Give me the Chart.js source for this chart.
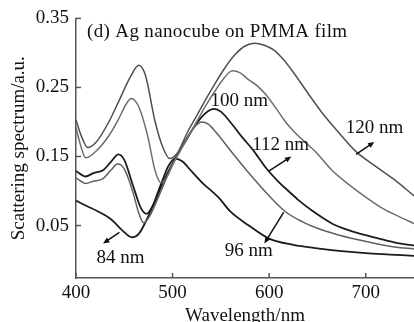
<!DOCTYPE html>
<html>
<head>
<meta charset="utf-8">
<script src="https://cdn.jsdelivr.net/npm/chart.js@4.4.1/dist/chart.umd.min.js"></script>
<style>
  html, body { margin: 0; padding: 0; background: #fff; }
</style>
</head>
<body>
<canvas id="chart" width="414" height="322"></canvas>
<script>
"use strict";

// wavelength (nm) / scattering (a.u.), one pair per cube size
const wl84 = [400, 410, 422, 431, 438, 448, 458, 465, 472, 480, 488, 496, 503, 510, 520, 530, 548, 560, 579, 600, 625, 650, 675, 700, 725, 750];
const sc84 = [0.086, 0.079, 0.071, 0.064, 0.057, 0.043, 0.033, 0.038, 0.055, 0.080, 0.110, 0.137, 0.147, 0.143, 0.128, 0.113, 0.090, 0.070, 0.050, 0.031, 0.022, 0.017, 0.013, 0.010, 0.008, 0.006];

const wl96 = [400, 410, 418, 428, 436, 443, 450, 459, 465, 470, 476, 485, 495, 505, 515, 523, 530, 537, 545, 562, 579, 600, 617, 635, 650, 670, 690, 710, 730, 750];
const sc96 = [0.119, 0.111, 0.114, 0.118, 0.130, 0.139, 0.132, 0.098, 0.068, 0.054, 0.063, 0.090, 0.123, 0.152, 0.176, 0.193, 0.200, 0.197, 0.185, 0.155, 0.126, 0.093, 0.070, 0.055, 0.046, 0.037, 0.030, 0.024, 0.019, 0.016];

const wl100 = [400, 410, 418, 428, 436, 444, 450, 459, 467, 473, 480, 490, 500, 510, 520, 530, 537, 543, 550, 562, 572, 583, 597, 610, 620, 631, 645, 665, 683, 700, 720, 735, 750];
const sc100 = [0.129, 0.121, 0.126, 0.130, 0.142, 0.153, 0.145, 0.108, 0.076, 0.067, 0.080, 0.112, 0.140, 0.165, 0.188, 0.207, 0.216, 0.219, 0.215, 0.196, 0.178, 0.160, 0.133, 0.113, 0.100, 0.086, 0.071, 0.053, 0.043, 0.036, 0.029, 0.024, 0.021];

const wl112 = [400, 405, 410, 421, 434, 444, 452, 457, 465, 474, 482, 488, 494, 500, 508, 517, 526, 535, 545, 553, 562, 570, 579, 588, 597, 607, 617, 630, 648, 665, 682, 700, 716, 733, 750];
const sc112 = [0.192, 0.165, 0.148, 0.158, 0.180, 0.204, 0.226, 0.234, 0.222, 0.181, 0.129, 0.112, 0.120, 0.138, 0.158, 0.180, 0.203, 0.225, 0.247, 0.263, 0.274, 0.271, 0.261, 0.252, 0.239, 0.220, 0.200, 0.180, 0.157, 0.130, 0.110, 0.091, 0.076, 0.064, 0.053];

const wl120 = [400, 406, 412, 421, 434, 444, 457, 465, 472, 482, 490, 497, 505, 515, 525, 535, 545, 555, 565, 575, 585, 595, 605, 615, 625, 640, 655, 670, 690, 710, 730, 750];
const sc120 = [0.203, 0.178, 0.163, 0.171, 0.200, 0.229, 0.267, 0.282, 0.267, 0.200, 0.163, 0.147, 0.155, 0.184, 0.209, 0.234, 0.258, 0.280, 0.298, 0.310, 0.314, 0.311, 0.304, 0.290, 0.272, 0.242, 0.213, 0.188, 0.157, 0.136, 0.116, 0.093];

const xTicks = [400, 500, 600, 700];
const yTicks = [0.05, 0.15, 0.25, 0.35];

// size labels: text, label centre [nm, a.u.], arrow tail and head [nm, a.u.]
const sizeNames = ["84 nm", "96 nm", "100 nm", "112 nm", "120 nm"];
const labelAt = [[446, 0.003], [579, 0.013], [569, 0.231], [612, 0.166], [709, 0.191]];
const arrowFrom = [[445, 0.040], [615, 0.069], null, [600, 0.129], [690, 0.153]];
const arrowTo = [[428, 0.024], [595, 0.024], null, [623, 0.150], [709, 0.171]];

const panelTitle = "(d) Ag nanocube on PMMA film";
const FONT = "'Liberation Serif', 'Times New Roman', serif";

function toPoints(xs, ys) {
    return xs.map((x, i) => ({ x: x, y: ys[i] }));
}

function drawArrow(ctx, x1, y1, x2, y2) {
    const ang = Math.atan2(y2 - y1, x2 - x1);
    const head = 7;
    ctx.beginPath();
    ctx.moveTo(x1, y1);
    ctx.lineTo(x2 - Math.cos(ang) * head * 0.7, y2 - Math.sin(ang) * head * 0.7);
    ctx.stroke();
    ctx.beginPath();
    ctx.moveTo(x2, y2);
    ctx.lineTo(x2 - head * Math.cos(ang - 0.4), y2 - head * Math.sin(ang - 0.4));
    ctx.lineTo(x2 - head * Math.cos(ang + 0.4), y2 - head * Math.sin(ang + 0.4));
    ctx.closePath();
    ctx.fill();
}

// inward tick marks, panel title, size labels with arrows
const decor = {
    id: "decor",
    afterDraw(chart) {
        const { ctx, chartArea, scales } = chart;
        const xs = scales.x, ys = scales.y;
        ctx.save();
        ctx.strokeStyle = "#555";
        ctx.lineWidth = 1.5;
        xs.ticks.forEach((t) => {
            const px = xs.getPixelForValue(t.value);
            ctx.beginPath();
            ctx.moveTo(px, chartArea.bottom);
            ctx.lineTo(px, chartArea.bottom - 5);
            ctx.stroke();
        });
        ys.ticks.forEach((t) => {
            const py = ys.getPixelForValue(t.value);
            ctx.beginPath();
            ctx.moveTo(chartArea.left, py);
            ctx.lineTo(chartArea.left + 5, py);
            ctx.stroke();
        });

        ctx.fillStyle = "#111";
        ctx.font = "19px " + FONT;
        ctx.textBaseline = "middle";
        ctx.textAlign = "left";
        ctx.letterSpacing = "0.35px";
        ctx.fillText(panelTitle, chartArea.left + 11, chartArea.top + 14);
        ctx.letterSpacing = "0px";

        ctx.textAlign = "center";
        sizeNames.forEach((name, i) => {
            ctx.fillText(name, xs.getPixelForValue(labelAt[i][0]), ys.getPixelForValue(labelAt[i][1]));
        });
        ctx.strokeStyle = "#111";
        ctx.lineWidth = 1.5;
        sizeNames.forEach((name, i) => {
            if (!arrowFrom[i]) return;
            drawArrow(ctx,
                xs.getPixelForValue(arrowFrom[i][0]), ys.getPixelForValue(arrowFrom[i][1]),
                xs.getPixelForValue(arrowTo[i][0]), ys.getPixelForValue(arrowTo[i][1]));
        });
        ctx.restore();
    },
};

const line = (label, xs, ys, color, width) => ({
    label: label,
    data: toPoints(xs, ys),
    borderColor: color,
    borderWidth: width,
    pointRadius: 0,
    fill: false,
    cubicInterpolationMode: "monotone",
});

new Chart(document.getElementById("chart"), {
    type: "line",
    data: {
        datasets: [
            line("120 nm", wl120, sc120, "#505050", 1.5),
            line("112 nm", wl112, sc112, "#6e6e6e", 1.5),
            line("96 nm", wl96, sc96, "#606060", 1.5),
            line("100 nm", wl100, sc100, "#1c1c1c", 1.8),
            line("84 nm", wl84, sc84, "#1c1c1c", 1.8),
        ],
    },
    options: {
        responsive: false,
        animation: false,
        layout: { padding: { top: 15, right: 0, left: 0, bottom: 0 } },
        plugins: { legend: { display: false }, tooltip: { enabled: false } },
        scales: {
            x: {
                type: "linear",
                min: 400,
                max: 750,
                afterBuildTicks: (s) => { s.ticks = xTicks.map((v) => ({ value: v })); },
                afterFit: (s) => { s.height = 44; },
                grid: { display: false, drawTicks: false },
                border: { display: true, color: "#555", width: 1.5 },
                ticks: { color: "#111", font: { family: FONT, size: 19 }, padding: 4, maxRotation: 0 },
                title: {
                    display: true,
                    text: "Wavelength/nm",
                    color: "#111",
                    font: { family: FONT, size: 19 },
                    padding: { top: 0, bottom: -5 },
                },
            },
            y: {
                min: -0.026,
                max: 0.35,
                afterBuildTicks: (s) => { s.ticks = yTicks.map((v) => ({ value: v })); },
                afterFit: (s) => { s.width = 76; },
                grid: { display: false, drawTicks: false },
                border: { display: true, color: "#555", width: 1.5 },
                ticks: {
                    color: "#111",
                    font: { family: FONT, size: 19 },
                    padding: 7,
                    callback: (v) => v.toFixed(2),
                },
                title: {
                    display: true,
                    text: "Scattering spectrum/a.u.",
                    color: "#111",
                    font: { family: FONT, size: 19 },
                    padding: { top: 8, bottom: 0 },
                },
            },
        },
    },
    plugins: [decor],
});
</script>
</body>
</html>
